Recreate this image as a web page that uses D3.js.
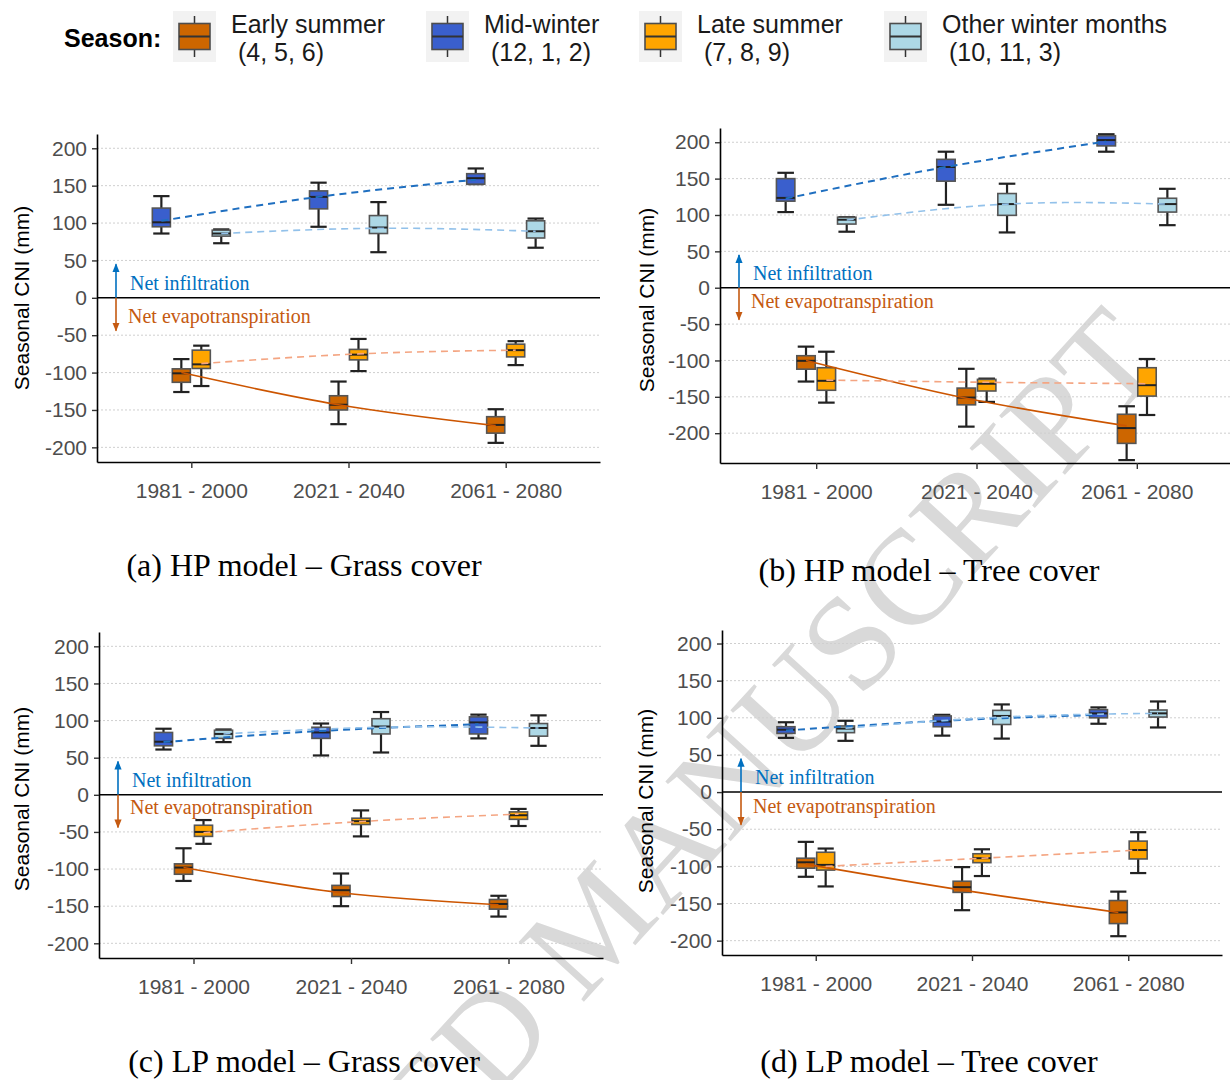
<!DOCTYPE html>
<html><head><meta charset="utf-8">
<script src="https://cdn.jsdelivr.net/npm/d3@7"></script>
<style>body{margin:0;background:#fff}</style>
</head><body>
<svg id="chart" width="1230" height="1080"></svg>
<script>
// ---------------- data ----------------
const periods = ["1981 - 2000", "2021 - 2040", "2061 - 2080"];
const seasons = ["Early summer", "Mid-winter", "Late summer", "Other winter months"];
const seasonMonths = ["(4, 5, 6)", "(12, 1, 2)", "(7, 8, 9)", "(10, 11, 3)"];
const seasonFill = ["#CD6600", "#3A5FCD", "#FFA500", "#ADD8E6"];
const trendColor = ["#CC5500", "#1F6FC0", "#F4A582", "#92C1EA"];
const trendDash = ["none", "7,5", "7,5", "7,5"];
const dodgePos = [1, 0, 2, 3];
const yTicks = [-200, -150, -100, -50, 0, 50, 100, 150, 200];
const panelTitles = ["(a) HP model \u2013 Grass cover", "(b) HP model \u2013 Tree cover",
                     "(c) LP model \u2013 Grass cover", "(d) LP model \u2013 Tree cover"];

// box stats per season (early, mid, late, other), per period: [min, q1, median, q3, max]
const boxesA = [
  [[-126,-113,-101,-95,-82],[-169,-150,-143,-131,-112],[-194,-181,-170,-159,-149]],
  [[86,95,101,120,136],[95,119,135,143,154],[152,152,160,166,173]],
  [[-118,-94.5,-89,-70,-64],[-98,-83,-76,-69,-55],[-90,-79,-70,-62,-58]],
  [[73,82.5,86,90.5,91.5],[61,86,94,110,128],[67,80,89,103,106]]
];
const boxesB = [
  [[-129,-112,-100.5,-93.5,-81],[-191,-161,-151,-138,-111.5],[-237,-214,-193,-174,-163]],
  [[104,119,123.5,150,158],[114,146.5,166,176.5,187],[187,195,203,209,211]],
  [[-158,-141,-128,-110,-88],[-157,-142,-132,-126,-125],[-175,-149,-134,-110,-98]],
  [[77,87.5,93.5,97,97],[76,99.5,115,129.5,143],[86,104,115,123,136]]
];
const boxesC = [
  [[-116,-107,-98,-93,-72],[-150,-137,-128.5,-122,-106],[-164,-154,-147,-141,-136]],
  [[61,66,71.5,84,89],[53,76,84,91,96],[76,82,97.5,105,108]],
  [[-66,-56,-50,-41,-34],[-56,-40,-35.5,-31.5,-21],[-42,-33,-27.5,-23,-19]],
  [[71,76,82,87,88],[57,82,92,102.5,111.5],[66,79,90,96,107]]
];
const boxesD = [
  [[-114,-102.5,-94.5,-89,-67],[-159,-135,-128,-120,-101],[-194,-177,-162,-146,-134]],
  [[73,79,84,88,94],[76,88,95,102.5,104],[92,100,106,111,114]],
  [[-127,-105,-98,-81,-76],[-113,-95,-89,-83,-77],[-109,-90,-78,-66,-54]],
  [[69,80,85.5,89,96],[72,91,102.5,110,118],[87,101,106,110.5,122]]
];
// fitted trend values per season per period
const trendA = [[-100,-143,-171],[103,135,158],[-88,-75,-70],[86,93,89]];
const trendB = [[-100,-152,-190],[122.6,166,201],[-127,-130,-132],[93,115,115]];
const trendC = [[-98,-132,-148],[71,86,95],[-51,-36,-26],[82,91,90]];
const trendD = [[-97,-132,-162],[83,96,104],[-100,-89,-78],[86,101,106]];

const yDomains = [[-219.6,219.1],[-241,219.6],[-219.8,219.3],[-219.3,218.2]];

// ---------------- layout ----------------
const layouts = [
  {left:97, right:600, top:134, bottom:462, tX:22, tY:298, capX:304, capY:576, evDy:25},
  {left:720, right:1233, top:128, bottom:463, tX:647, tY:300, capX:929, capY:581, evDy:20},
  {left:99, right:603, top:632, bottom:958, tX:22, tY:799, capX:304, capY:1072, evDy:19},
  {left:722, right:1222, top:630, bottom:955, tX:646, tY:801, capX:929, capY:1072, evDy:21}
];
const SANS = "'Liberation Sans', Arial, Helvetica, sans-serif";
const SERIF = "'Liberation Serif', 'Times New Roman', serif";

const svg = d3.select("#chart");

// watermark (behind everything)
svg.append("text")
  .attr("transform", "translate(1168,362) rotate(-47.6)")
  .attr("text-anchor", "end")
  .style("font-family", SERIF).style("font-size", "135px")
  .attr("fill", "#d9d9d9")
  .text("ACCEPTED MANUSCRIPT");

// arrow markers
const defs = svg.append("defs");
[["arrBlue", "#0070C0"], ["arrOrange", "#C55A11"]].forEach(([id, c]) => {
  defs.append("marker").attr("id", id).attr("viewBox", "0 0 10 10")
    .attr("refX", 9).attr("refY", 5).attr("markerWidth", 9).attr("markerHeight", 9)
    .attr("markerUnits", "userSpaceOnUse").attr("orient", "auto")
    .append("path").attr("d", "M0,1 L10,5 L0,9 Z").attr("fill", c);
});

// ---------------- legend ----------------
const legKeyX = [173, 426, 639, 884];
svg.append("text").attr("x", 64).attr("y", 47)
  .style("font-family", SANS).style("font-size", "25px").style("font-weight", "bold")
  .attr("fill", "#000").text("Season:");
seasons.forEach((s, i) => {
  const g = svg.append("g").attr("transform", `translate(${legKeyX[i]},11)`);
  g.append("rect").attr("width", 43).attr("height", 51).attr("fill", "#F2F2F2");
  g.append("line").attr("x1", 21.5).attr("x2", 21.5).attr("y1", 5).attr("y2", 46)
    .attr("stroke", "#333").attr("stroke-width", 1.5);
  g.append("rect").attr("x", 6).attr("y", 12.5).attr("width", 31).attr("height", 26)
    .attr("fill", seasonFill[i]).attr("stroke", "#4D4D4D").attr("stroke-width", 1.6);
  g.append("line").attr("x1", 6).attr("x2", 37).attr("y1", 25.5).attr("y2", 25.5)
    .attr("stroke", "#333").attr("stroke-width", 2);
  const t = svg.append("text").attr("x", legKeyX[i] + 58).attr("y", 33)
    .style("font-family", SANS).style("font-size", "25px").attr("fill", "#1a1a1a");
  t.append("tspan").attr("x", legKeyX[i] + 58).attr("y", 33).text(s);
  t.append("tspan").attr("x", legKeyX[i] + 58).attr("y", 61)
    .text("\u00A0" + seasonMonths[i]);
});

// ---------------- panels ----------------
const allBoxes = [boxesA, boxesB, boxesC, boxesD];
const allTrends = [trendA, trendB, trendC, trendD];

layouts.forEach((L, pi) => {
  const boxes = allBoxes[pi], trends = allTrends[pi];
  const g = svg.append("g");
  const x = d3.scalePoint().domain(periods).range([L.left, L.right]).padding(0.6);
  const step = x.step();
  const y = d3.scaleLinear().domain(yDomains[pi]).range([L.bottom, L.top]);
  const clipId = "clip" + pi;
  defs.append("clipPath").attr("id", clipId).append("rect")
    .attr("x", L.left).attr("y", L.top).attr("width", L.right - L.left).attr("height", L.bottom - L.top);

  // gridlines
  g.append("g").selectAll("line").data(yTicks.filter(t => t !== 0)).join("line")
    .attr("x1", L.left).attr("x2", L.right).attr("y1", d => y(d)).attr("y2", d => y(d))
    .attr("stroke", "#CFCFCF").attr("stroke-width", 1).attr("stroke-dasharray", "2,2");
  // zero line
  g.append("line").attr("x1", L.left).attr("x2", L.right).attr("y1", y(0)).attr("y2", y(0))
    .attr("stroke", "#000").attr("stroke-width", 1.5);

  // axes
  const ya = g.append("g").attr("transform", `translate(${L.left},0)`)
    .call(d3.axisLeft(y).tickValues(yTicks).tickFormat(d => String(d))
      .tickSize(5).tickSizeOuter(0).tickPadding(5));
  const xa = g.append("g").attr("transform", `translate(0,${L.bottom})`)
    .call(d3.axisBottom(x).tickSize(6).tickSizeOuter(0).tickPadding(10));
  [ya, xa].forEach(a => {
    a.select(".domain").attr("stroke", "#000").attr("stroke-width", 1.6);
    a.selectAll(".tick line").attr("stroke", "#333").attr("stroke-width", 1.4);
    a.selectAll(".tick text").attr("fill", "#4D4D4D")
      .style("font-family", SANS).style("font-size", "21px");
  });
  xa.selectAll(".tick text").attr("dy", "0.95em");

  // y title
  g.append("text").attr("transform", `translate(${L.tX},${L.tY}) rotate(-90)`)
    .attr("text-anchor", "middle").attr("dy", "0.35em")
    .style("font-family", SANS).style("font-size", "21px").attr("fill", "#000")
    .text("Seasonal CNI (mm)");

  // direction arrows + labels
  const ax = L.left + 19;
  g.append("line").attr("x1", ax).attr("x2", ax).attr("y1", y(0)).attr("y2", y(45))
    .attr("stroke", "#0070C0").attr("stroke-width", 1.6).attr("marker-end", "url(#arrBlue)");
  g.append("line").attr("x1", ax).attr("x2", ax).attr("y1", y(0)).attr("y2", y(-44))
    .attr("stroke", "#C55A11").attr("stroke-width", 1.6).attr("marker-end", "url(#arrOrange)");
  g.append("text").attr("x", L.left + 33).attr("y", y(0) - 8)
    .style("font-family", SERIF).style("font-size", "20px").attr("fill", "#0070C0")
    .text("Net infiltration");
  g.append("text").attr("x", L.left + 31).attr("y", y(0) + L.evDy)
    .style("font-family", SERIF).style("font-size", "20px").attr("fill", "#C55A11")
    .text("Net evapotranspiration");

  // boxes
  const bw = 0.115 * step;
  const xs = (si, p) => x(p) + (dodgePos[si] - 1.5) * 0.127 * step;
  const bg = g.append("g").attr("clip-path", `url(#${clipId})`);
  seasons.forEach((s, si) => {
    periods.forEach((p, k) => {
      const [mn, q1, md, q3, mx] = boxes[si][k];
      const cx = xs(si, p);
      const cg = bg.append("g");
      cg.append("line").attr("x1", cx).attr("x2", cx).attr("y1", y(mx)).attr("y2", y(q3))
        .attr("stroke", "#222").attr("stroke-width", 2.2);
      cg.append("line").attr("x1", cx).attr("x2", cx).attr("y1", y(q1)).attr("y2", y(mn))
        .attr("stroke", "#222").attr("stroke-width", 2.2);
      [mn, mx].forEach(v => cg.append("line")
        .attr("x1", cx - bw * 0.45).attr("x2", cx + bw * 0.45).attr("y1", y(v)).attr("y2", y(v))
        .attr("stroke", "#222").attr("stroke-width", 2.2));
      cg.append("rect").attr("x", cx - bw / 2).attr("width", bw)
        .attr("y", y(q3)).attr("height", Math.max(1, y(q1) - y(q3)))
        .attr("fill", seasonFill[si]).attr("stroke", "#555").attr("stroke-width", 1.6);
      cg.append("line").attr("x1", cx - bw / 2).attr("x2", cx + bw / 2)
        .attr("y1", y(md)).attr("y2", y(md)).attr("stroke", "#222").attr("stroke-width", 2);
    });
  });

  // trend lines
  const line = d3.line().curve(d3.curveNatural);
  seasons.forEach((s, si) => {
    const pts = periods.map((p, k) => [xs(si, p), y(trends[si][k])]);
    bg.append("path").attr("d", line(pts)).attr("fill", "none")
      .attr("stroke", trendColor[si]).attr("stroke-width", si === 1 ? 2 : 1.6)
      .attr("stroke-dasharray", trendDash[si]);
  });

  // caption
  svg.append("text").attr("x", L.capX).attr("y", L.capY).attr("text-anchor", "middle")
    .style("font-family", SERIF).style("font-size", "32px").attr("fill", "#000")
    .text(panelTitles[pi]);
});
</script>
</body></html>
